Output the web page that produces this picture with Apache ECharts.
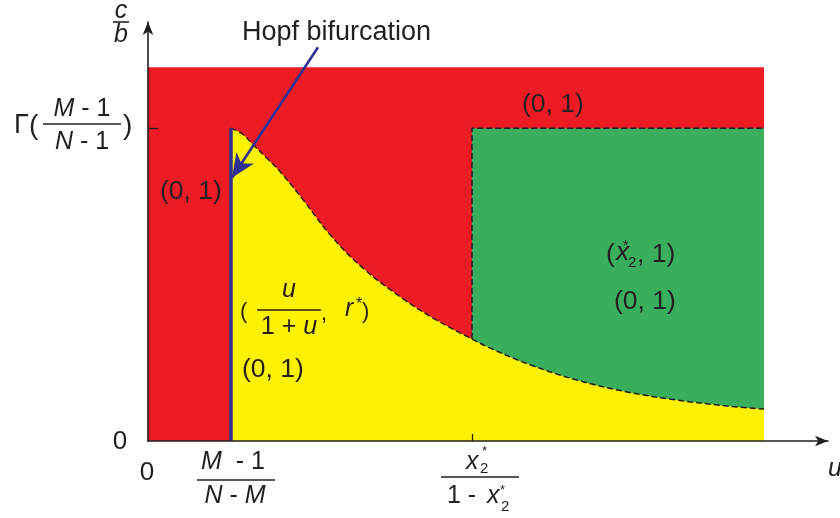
<!DOCTYPE html>
<html>
<head>
<meta charset="utf-8">
<script src="https://cdn.jsdelivr.net/npm/echarts@6/dist/echarts.min.js"></script>
<style>
html,body{margin:0;padding:0;background:#fff;}
#chart{width:840px;height:518px;}
</style>
</head>
<body>
<div id="chart"></div>
<script>
// ---- data ----
const hopfU = 1.0375;          // (M-1)/(N-M)
const x2Tick = 4.05;           // x2*/(1-x2*)
const gammaLevel = 1.0;        // Γ((M-1)/(N-1))
const regionTop = 1.195;       // top of plotted region
const regionRight = 7.70;      // right edge of plotted region
const curveU = [1.0375, 1.18, 1.3125, 1.48, 1.65, 1.9375, 2.275, 2.6875, 3.1875, 3.6125, 4.05, 4.3125, 4.775, 5.3625, 5.9875, 6.6125, 7.2375, 7.70];
const curveC = [1.000, 0.982, 0.948, 0.906, 0.862, 0.772, 0.660, 0.553, 0.455, 0.386, 0.326, 0.293, 0.244, 0.195, 0.157, 0.131, 0.112, 0.102];
const hopfArrowFrom = [2.125, 1.259];
const hopfArrowTo = [1.05, 0.842];

const RED = '#ed1c24', YELLOW = '#fff200', GREEN = '#39ae5d', BLUE = '#2e3192', INK = '#231f20';
const FONT = '"Liberation Sans", Arial, Helvetica, sans-serif';

const curveData = curveU.map((u, i) => [u, curveC[i]]);
const x2Index = curveU.indexOf(x2Tick);

function rich(size) {
  return {
    i: {fontStyle: 'italic', fontSize: size, fontFamily: FONT, fill: INK},
    n: {fontSize: size, fontFamily: FONT, fill: INK}
  };
}
function txt(x, y, s, size, align, italic) {
  size = size || 25;
  return {
    type: 'text', x: x, y: y, z: 100,
    style: {
      text: s, fill: INK, fontSize: size, fontFamily: FONT,
      fontStyle: italic ? 'italic' : 'normal',
      align: align || 'left', verticalAlign: 'middle',
      rich: rich(size)
    }
  };
}
function bar(x1, x2, y) {
  return {type: 'line', z: 100, shape: {x1: x1, y1: y, x2: x2, y2: y}, style: {stroke: INK, lineWidth: 1.6}};
}

const chart = echarts.init(document.getElementById('chart'), null, {renderer: 'canvas'});

const option = {
  animation: false,
  backgroundColor: '#fff',
  grid: {left: 148, right: 12, top: 22, bottom: 77},
  xAxis: {
    type: 'value', min: 0, max: 8.5, z: 10,
    splitLine: {show: false},
    axisLine: {show: true, symbol: ['none', 'arrow'], symbolSize: [8, 13], lineStyle: {color: INK, width: 1.6}},
    axisTick: {show: true, inside: true, length: 7, customValues: [x2Tick], lineStyle: {color: INK, width: 1.3}},
    axisLabel: {show: false}
  },
  yAxis: {
    type: 'value', min: 0, max: 1.34, z: 10,
    splitLine: {show: false},
    axisLine: {show: true, symbol: ['none', 'arrow'], symbolSize: [8, 13], lineStyle: {color: INK, width: 1.6}},
    axisTick: {show: true, inside: true, length: 10, customValues: [gammaLevel], lineStyle: {color: INK, width: 1.3}},
    axisLabel: {show: false}
  },
  series: [
    {
      name: 'red', type: 'line', symbol: 'none', z: 1,
      data: [[0, regionTop], [regionRight, regionTop]],
      lineStyle: {width: 0}, areaStyle: {color: RED, opacity: 1}
    },
    {
      name: 'green', type: 'line', symbol: 'none', z: 2,
      data: [[x2Tick, gammaLevel], [regionRight, gammaLevel]],
      lineStyle: {width: 0}, areaStyle: {color: GREEN, opacity: 1}
    },
    {
      name: 'yellow', type: 'line', symbol: 'none', z: 3,
      smooth: 0.4,
      data: curveData,
      lineStyle: {color: INK, width: 1.5, type: [6, 3]},
      areaStyle: {color: YELLOW, opacity: 1}
    },
    {
      name: 'greenEdge', type: 'line', symbol: 'none', z: 4,
      data: [[x2Tick, curveC[x2Index]], [x2Tick, gammaLevel], [regionRight, gammaLevel]],
      lineStyle: {color: INK, width: 1.5, type: [6, 3]}
    },
    {
      name: 'hopf', type: 'line', symbol: 'none', z: 5,
      data: [[hopfU, 0], [hopfU, gammaLevel]],
      lineStyle: {color: BLUE, width: 3.5}
    },
    {
      name: 'arrow', type: 'lines', coordinateSystem: 'cartesian2d', z: 6,
      symbol: ['none', 'none'],
      lineStyle: {color: BLUE, width: 2.6, opacity: 1},
      data: [{coords: [hopfArrowFrom, hopfArrowTo]}]
    }
  ]
};
chart.setOption(option);

// arrowhead at the end of the Hopf arrow, placed from its data coordinates
const pFrom = chart.convertToPixel({gridIndex: 0}, hopfArrowFrom);
const pTo = chart.convertToPixel({gridIndex: 0}, hopfArrowTo);
const dx = pTo[0] - pFrom[0], dy = pTo[1] - pFrom[1];
const len = Math.sqrt(dx * dx + dy * dy);
const ux = dx / len, uy = dy / len, nx = -uy, ny = ux;
const headL = 24, headW = 10.5, notch = 7;
const head = [
  [pTo[0], pTo[1]],
  [pTo[0] - headL * ux + headW * nx, pTo[1] - headL * uy + headW * ny],
  [pTo[0] - (headL - notch) * ux, pTo[1] - (headL - notch) * uy],
  [pTo[0] - headL * ux - headW * nx, pTo[1] - headL * uy - headW * ny]
];

chart.setOption({
  graphic: [
    {type: 'polygon', z: 90, shape: {points: head}, style: {fill: BLUE}},
    txt(242, 33, 'Hopf bifurcation', 27),
    txt(160, 192, '(0, 1)', 26.5),
    txt(522, 105, '(0, 1)', 26.5),
    txt(614, 302, '(0, 1)', 26.5),
    txt(242, 370, '(0, 1)', 26.5),
    // (x2*, 1)
    txt(606, 255, '(', 26.5),
    txt(616, 253, 'x', 26.5, 'left', true),
    txt(623, 246, '*', 14),
    txt(628, 263, '2', 15),
    txt(637, 255, ', 1)', 26.5),
    // ( u/(1+u), r* )
    txt(240, 312, '(', 22),
    txt(289, 290, 'u', 25, 'center', true),
    bar(257, 321, 310),
    txt(289, 327, '1 + {i|u}', 25, 'center'),
    txt(321, 314, ',', 22),
    txt(345, 309, 'r', 25, 'left', true),
    txt(356, 305, '*', 16),
    txt(362, 312, ')', 22),
    // y axis name c/b
    txt(121, 11, 'c', 25, 'center', true),
    bar(113, 129, 22),
    txt(121, 35, 'b', 25, 'center', true),
    // Γ((M-1)/(N-1))
    txt(14, 126, 'Γ', 27),
    txt(29, 126, '(', 28),
    txt(82, 109, '{i|M} - 1', 25, 'center'),
    bar(43, 121, 124),
    txt(82, 142, '{i|N} - 1', 25, 'center'),
    txt(123, 126, ')', 28),
    // zeros
    txt(120, 442, '0', 26, 'center'),
    txt(147, 473, '0', 26, 'center'),
    // (M-1)/(N-M)
    txt(233, 462, '{i|M}  - 1', 25, 'center'),
    bar(197, 275, 480),
    txt(235, 496, '{i|N} - {i|M}', 25, 'center'),
    // x2*/(1-x2*)
    txt(466, 462, 'x', 25, 'left', true),
    txt(482, 451, '*', 13),
    txt(480, 469, '2', 15),
    bar(441, 519, 477),
    txt(447, 496, '1 - ', 25),
    txt(487, 496, 'x', 25, 'left', true),
    txt(500, 490, '*', 13),
    txt(501, 507, '2', 15),
    // axis name u
    txt(828, 469, 'u', 25, 'left', true)
  ]
});
</script>
</body>
</html>
